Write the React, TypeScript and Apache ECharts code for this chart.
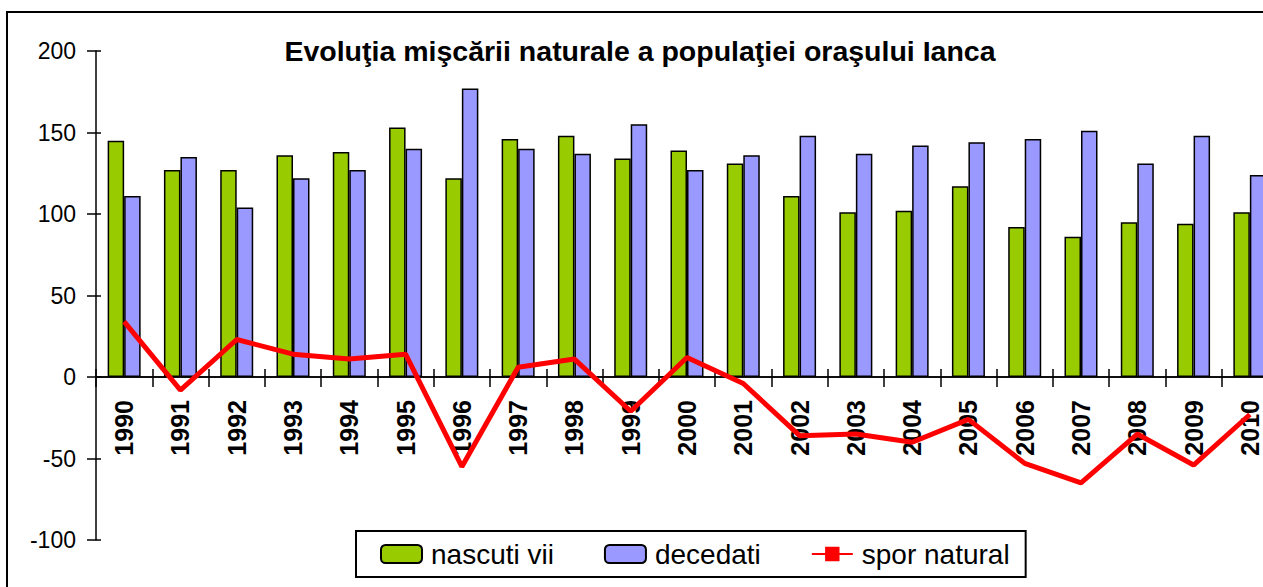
import React, { useEffect, useRef } from "react";
import * as echarts from "echarts";

const years = [
  "1990", "1991", "1992", "1993", "1994", "1995", "1996", "1997", "1998", "1999", "2000",
  "2001", "2002", "2003", "2004", "2005", "2006", "2007", "2008", "2009", "2010",
];
const nascutiVii = [145, 127, 127, 136, 138, 153, 122, 146, 148, 134, 139, 131, 111, 101, 102, 117, 92, 86, 95, 94, 101];
const decedati = [111, 135, 104, 122, 127, 140, 177, 140, 137, 155, 127, 136, 148, 137, 142, 144, 146, 151, 131, 148, 124];
const sporNatural = [34, -8, 23, 14, 11, 14, -55, 6, 11, -21, 12, -4, -36, -35, -40, -26, -53, -65, -35, -54, -23];

const seriesNames = ["nascuti vii", "decedati", "spor natural"];
const titleText = "Evoluţia mişcării naturale a populaţiei oraşului Ianca";
const yMin = -100;
const yMax = 200;
const yStep = 50;

const FONT = '"Liberation Sans", Arial, sans-serif';

export default function App() {
  const ref = useRef<HTMLDivElement>(null);

  useEffect(() => {
    const chart = echarts.init(ref.current!, null, { renderer: "svg" });
    const gridTop = 51;
    const gridHeight = 489;
    // distance from grid bottom up to the zero line
    const zeroOffset = -(gridHeight * (0 - yMin)) / (yMax - yMin);
    chart.setOption({
      animation: false,
      backgroundColor: "#ffffff",
      textStyle: { fontFamily: FONT },
      graphic: [
        {
          type: "rect",
          shape: { x: 7, y: 12, width: 1400, height: 700 },
          style: { fill: "none", stroke: "#000", lineWidth: 2 },
          silent: true,
        },
        {
          type: "text",
          x: 640,
          y: 36,
          style: {
            text: titleText,
            fontSize: 28.5,
            fontWeight: "bold",
            fontFamily: FONT,
            fill: "#000",
            align: "center",
            verticalAlign: "top",
          },
        },
      ],
      grid: {
        left: 96,
        top: gridTop,
        width: 1182,
        height: gridHeight,
        containLabel: false,
        outerBoundsMode: "none",
      },
      legend: {
        data: seriesNames,
        left: 356,
        top: 531,
        orient: "horizontal",
        itemWidth: 41,
        itemHeight: 18,
        itemGap: 50,
        padding: [9, 16, 9, 24],
        borderColor: "#000",
        borderWidth: 2,
        textStyle: { fontSize: 28, color: "#000", fontFamily: FONT, padding: [0, 0, 0, 4] },
      },
      xAxis: [
        {
          type: "category",
          data: years,
          position: "bottom",
          offset: zeroOffset,
          axisLine: { show: true, onZero: false, lineStyle: { color: "#000", width: 1.5 } },
          axisTick: { show: true, inside: false, length: 10, lineStyle: { color: "#000", width: 1.5 } },
          axisLabel: {
            rotate: 90,
            interval: 0,
            fontSize: 25,
            fontWeight: "bold",
            color: "#000",
            margin: 23,
            fontFamily: FONT,
          },
          splitLine: { show: false },
        },
        {
          type: "category",
          data: years,
          position: "bottom",
          offset: zeroOffset,
          axisLine: { show: true, onZero: false, lineStyle: { color: "#000", width: 1.5 } },
          axisTick: { show: true, inside: true, length: 8, lineStyle: { color: "#000", width: 1.5 } },
          axisLabel: { show: false },
          splitLine: { show: false },
        },
      ],
      yAxis: [
        {
          type: "value",
          min: yMin,
          max: yMax,
          interval: yStep,
          position: "left",
          axisLine: { show: true, onZero: false, lineStyle: { color: "#000", width: 1.5 } },
          axisTick: { show: true, inside: false, length: 9, lineStyle: { color: "#000", width: 1.5 } },
          axisLabel: { fontSize: 23, color: "#000", margin: 20, fontFamily: FONT },
          splitLine: { show: false },
        },
        {
          type: "value",
          min: yMin,
          max: yMax,
          interval: yStep,
          position: "left",
          axisLine: { show: false, onZero: false },
          axisTick: { show: true, inside: true, length: 5, lineStyle: { color: "#000", width: 1.5 } },
          axisLabel: { show: false },
          splitLine: { show: false },
        },
      ],
      series: [
        {
          name: seriesNames[0],
          type: "bar",
          data: nascutiVii,
          barWidth: 16.5,
          barGap: "0%",
          itemStyle: { color: "#99CC00", borderColor: "#000", borderWidth: 1.5 },
        },
        {
          name: seriesNames[1],
          type: "bar",
          data: decedati,
          barWidth: 16.5,
          barGap: "0%",
          itemStyle: { color: "#9999FF", borderColor: "#000", borderWidth: 1.5 },
        },
        {
          name: seriesNames[2],
          type: "line",
          data: sporNatural,
          symbol: "rect",
          symbolSize: [7, 4],
          showSymbol: false,
          z: 5,
          itemStyle: { color: "#FF0000" },
          lineStyle: { color: "#FF0000", width: 5 },
        },
      ],
    });
    return () => chart.dispose();
  }, []);

  return (
    <div
      style={{
        position: "fixed",
        left: 0,
        top: 0,
        width: 1263,
        height: 587,
        overflow: "hidden",
        background: "#fff",
      }}
    >
      <div ref={ref} style={{ width: 1300, height: 600 }} />
    </div>
  );
}
